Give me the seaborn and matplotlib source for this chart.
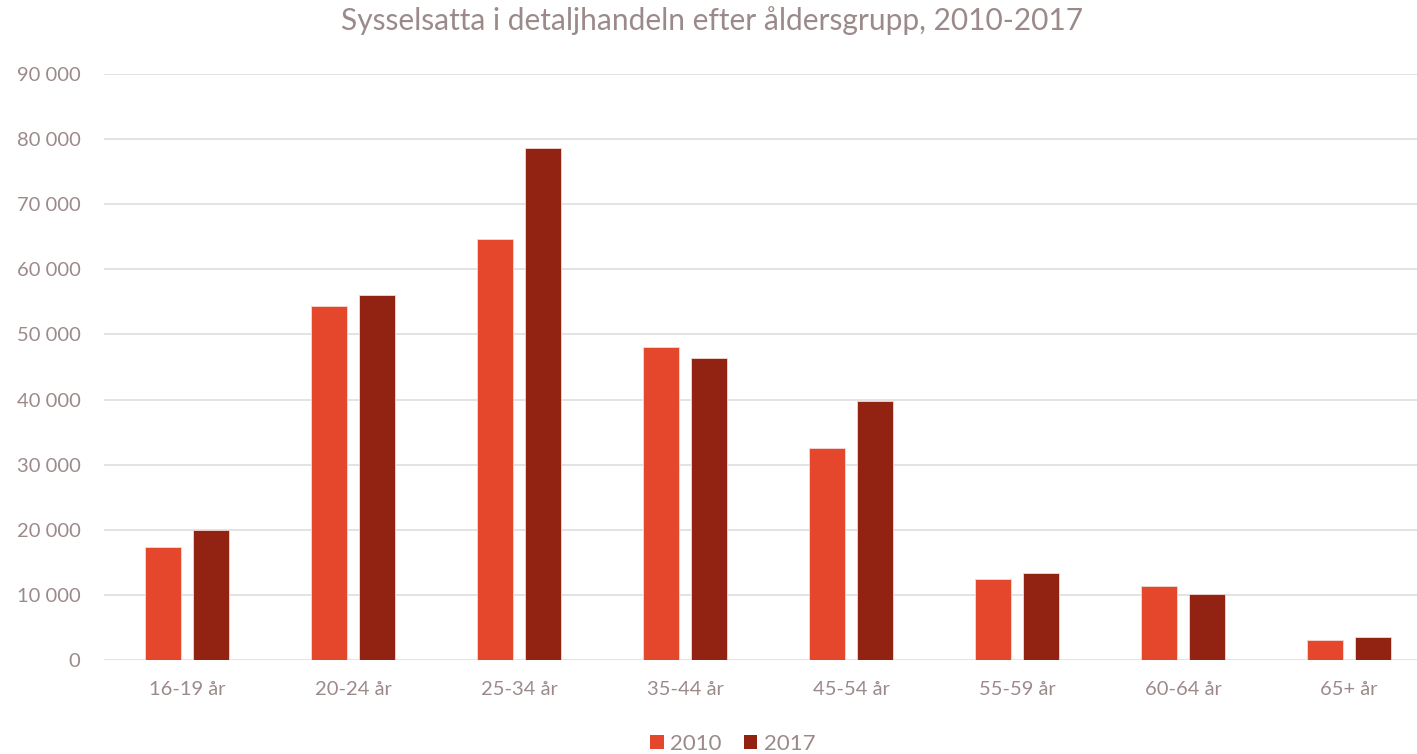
import matplotlib
matplotlib.use("Agg")
import matplotlib.pyplot as plt
import seaborn as sns
import pandas as pd
from matplotlib.ticker import FuncFormatter
from matplotlib.patches import Patch

categories = ["16-19 år", "20-24 år", "25-34 år", "35-44 år", "45-54 år", "55-59 år", "60-64 år", "65+ år"]
values_2010 = [17400, 54400, 64700, 48100, 32600, 12400, 11400, 3100]
values_2017 = [19900, 56100, 78600, 46400, 39800, 13400, 10100, 3600]
series = ["2010", "2017"]
colors = ["#E5472D", "#922312"]
title = "Sysselsatta i detaljhandeln efter åldersgrupp, 2010-2017"

df = pd.DataFrame({
    "Åldersgrupp": categories * 2,
    "År": [series[0]] * len(categories) + [series[1]] * len(categories),
    "Antal": values_2010 + values_2017,
})

sns.set_theme(style="white")
plt.rcParams["font.family"] = ["Lato", "DejaVu Sans"]
text_color = "#9C8A8A"

fig = plt.figure(figsize=(14.17, 7.54), dpi=100)
ax = fig.add_axes([104 / 1417, (754 - 660) / 754, 1328 / 1417, (660 - 74) / 754])

sns.barplot(data=df, x="Åldersgrupp", y="Antal", hue="År", palette=colors,
            width=0.578, gap=0.23, ax=ax, legend=False,
            edgecolor="#F4D9D4", linewidth=0.6, saturation=1)

ax.set_ylim(0, 90000)
ax.set_xlim(-0.5, len(categories) - 0.5)
ax.set_yticks(range(0, 90001, 10000))
ax.yaxis.set_major_formatter(FuncFormatter(lambda v, p: f"{int(v):,}".replace(",", " ")))
ax.grid(axis="y", color="#E3DFE0", linewidth=1.3)
ax.set_axisbelow(True)
for s in ax.spines.values():
    s.set_visible(False)
ax.tick_params(axis="both", length=0, labelsize=14.5, colors=text_color)
ax.tick_params(axis="y", pad=17)
ax.tick_params(axis="x", pad=15)
ax.set_xlabel("")
ax.set_ylabel("")

fig.text(712 / 1417, 1 - 21 / 754, title, ha="center", va="center",
         fontsize=21.5, color=text_color)

handles = [Patch(facecolor=c, edgecolor="none") for c in colors]
fig.legend(handles, series, loc="center", bbox_to_anchor=(733 / 1417, 1 - 744 / 754),
           ncol=2, frameon=False, fontsize=16, labelcolor=text_color,
           handlelength=0.6, handleheight=0.6, handletextpad=0.3, columnspacing=1.0)

fig.savefig("out.png", dpi=100)
